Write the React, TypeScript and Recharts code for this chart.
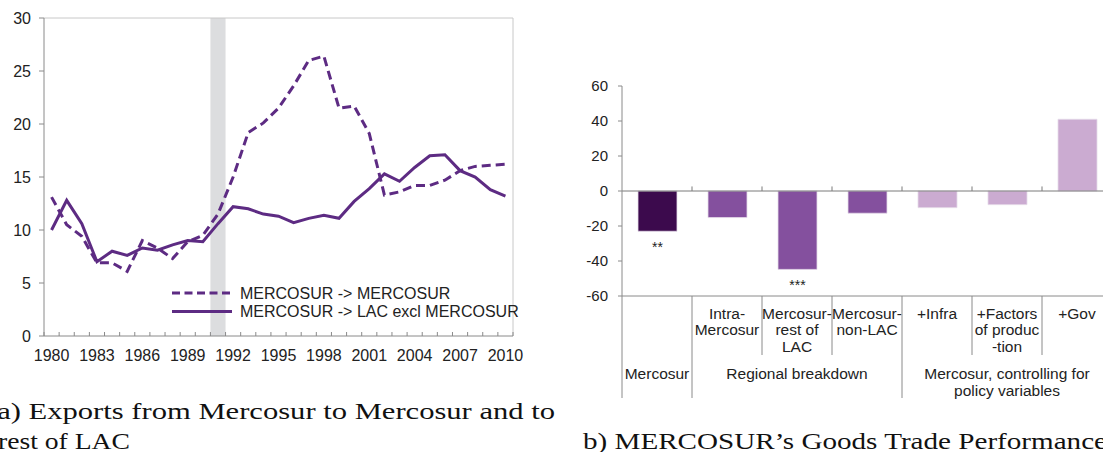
import React from 'react';
import {
  LineChart, Line, XAxis, YAxis, ReferenceArea, ReferenceLine, Legend,
  BarChart, Bar, Cell, LabelList,
} from 'recharts';

// ---------- Panel (a) data ----------
const years = [
  1980, 1981, 1982, 1983, 1984, 1985, 1986, 1987, 1988, 1989, 1990,
  1991, 1992, 1993, 1994, 1995, 1996, 1997, 1998, 1999, 2000,
  2001, 2002, 2003, 2004, 2005, 2006, 2007, 2008, 2009, 2010,
];
const mercosurToMercosur = [
  13.1, 10.5, 9.4, 6.9, 6.9, 6.1, 9.0, 8.3, 7.3, 8.9, 9.5,
  11.5, 15.0, 19.2, 20.1, 21.5, 23.6, 26.0, 26.4, 21.5, 21.7,
  19.1, 13.3, 13.6, 14.2, 14.2, 14.7, 15.6, 16.0, 16.1, 16.2,
];
const mercosurToLac = [
  10.0, 12.8, 10.6, 7.0, 8.0, 7.6, 8.3, 8.1, 8.6, 9.0, 8.9,
  10.6, 12.2, 12.0, 11.5, 11.3, 10.7, 11.1, 11.4, 11.1, 12.7,
  13.9, 15.3, 14.6, 15.9, 17.0, 17.1, 15.6, 15.0, 13.8, 13.2,
];
const yearLabels = [1980, 1983, 1986, 1989, 1992, 1995, 1998, 2001, 2004, 2007, 2010];
const leftYTicks = [0, 5, 10, 15, 20, 25, 30];
const shadedYear = 1991;
const seriesNames = ['MERCOSUR -> MERCOSUR', 'MERCOSUR -> LAC excl MERCOSUR'];

// ---------- Panel (b) data ----------
const barCategories = [
  'Mercosur', 'Intra-Mercosur', 'Mercosur-rest of LAC', 'Mercosur-non-LAC',
  '+Infra', '+Factors of production', '+Gov',
];
const barLabelLines = [
  [], ['Intra-', 'Mercosur'], ['Mercosur-', 'rest of', 'LAC'], ['Mercosur-', 'non-LAC'],
  ['+Infra'], ['+Factors', 'of produc', '-tion'], ['+Gov'],
];
const barValues = [-23, -15.2, -44.8, -12.7, -9.5, -7.8, 41];
const barSignificance = ['**', '', '***', '', '', '', ''];
const barGroupIndex = [0, 1, 1, 1, 2, 2, 2];
const groupLabels = [['Mercosur'], ['Regional breakdown'], ['Mercosur, controlling for', 'policy variables']];
const rightYTicks = [-60, -40, -20, 0, 20, 40, 60];

const captionA1 = '(a) Exports from Mercosur to Mercosur and to';
const captionA2 = 'rest of LAC';
const captionB = 'b) MERCOSUR\u2019s Goods Trade Performance';

// ---------- styles ----------
const SANS = "'Liberation Sans', Arial, sans-serif";
const SERIF = "'Liberation Serif', 'Times New Roman', serif";
const LINE_COLOR = '#5d2b83';
const AXIS_COLOR = '#8a8a8a';
const TEXT_COLOR = '#222';
const GROUP_COLORS = ['#3c0a4d', '#84509e', '#cbabd1'];

const lineData = years.map((y, i) => ({
  year: y,
  m2m: mercosurToMercosur[i],
  m2lac: mercosurToLac[i],
}));
const yearTicks: number[] = [];
years.forEach((y) => {
  yearTicks.push(y - 0.5);
  yearTicks.push(y);
});
yearTicks.push(years[years.length - 1] + 0.5);

const barData = barCategories.map((c, i) => ({
  name: c,
  value: barValues[i],
  sig: barSignificance[i],
}));

const YearTick = (props: any) => {
  const { x, y, payload } = props;
  const v = payload.value as number;
  if (!Number.isInteger(v)) {
    return <line x1={x} x2={x} y1={y} y2={y - 4} stroke={AXIS_COLOR} strokeWidth={1} />;
  }
  if (yearLabels.includes(v)) {
    return (
      <text x={x} y={y + 24.5} textAnchor="middle" fontSize={16} fontFamily={SANS} fill={TEXT_COLOR}>
        {v}
      </text>
    );
  }
  return <g />;
};

const LineLegend = () => (
  <svg width={360} height={40} style={{ display: 'block' }}>
    <line x1={2} x2={62} y1={10} y2={10} stroke={LINE_COLOR} strokeWidth={3} strokeDasharray="8 4.5" />
    <text x={70} y={10} dominantBaseline="central" fontSize={16} fontFamily={SANS} fill={TEXT_COLOR}>
      {seriesNames[0]}
    </text>
    <line x1={2} x2={62} y1={28.5} y2={28.5} stroke={LINE_COLOR} strokeWidth={3} />
    <text x={70} y={28.5} dominantBaseline="central" fontSize={16} fontFamily={SANS} fill={TEXT_COLOR}>
      {seriesNames[1]}
    </text>
  </svg>
);

const BarAxisTick = (props: any) => {
  const { x, y, payload, width } = props;
  const i: number = payload.index ?? props.index ?? 0;
  const half = typeof payload.offset === 'number' && payload.offset > 0
    ? payload.offset
    : (width / barCategories.length) / 2;
  const g = barGroupIndex[i];
  const isGroupStart = i === 0 || barGroupIndex[i - 1] !== g;
  const members = barGroupIndex.map((gi, k) => (gi === g ? k : -1)).filter((k) => k >= 0);
  const isGroupCenter = members[Math.floor(members.length / 2)] === i;
  const lines = barLabelLines[i];
  return (
    <g>
      <line
        x1={x - half} x2={x - half} y1={y} y2={y + (isGroupStart ? 102 : 59)}
        stroke={AXIS_COLOR} strokeWidth={1}
      />
      {lines.map((t, k) => (
        <text key={k} x={x} y={y + 22.5 + k * 16.5} textAnchor="middle" fontSize={15.5} fontFamily={SANS} fill={TEXT_COLOR}>
          {t}
        </text>
      ))}
      {isGroupCenter && groupLabels[g].map((t, k) => (
        <text key={'g' + k} x={x} y={y + 82.7 + k * 17.7} textAnchor="middle" fontSize={15.5} fontFamily={SANS} fill={TEXT_COLOR}>
          {t}
        </text>
      ))}
    </g>
  );
};

const SigLabel = (props: any) => {
  const { x, y, width, height, value } = props;
  if (!value) return null;
  const bottom = Math.max(y, y + height);
  return (
    <text x={x + width / 2} y={bottom + 21} textAnchor="middle" fontSize={14} fontFamily={SANS} fill={TEXT_COLOR}>
      {value}
    </text>
  );
};

export default function App() {
  return (
    <div style={{ position: 'fixed', left: 0, top: 0, width: 1103, height: 452, overflow: 'hidden', background: '#fff' }}>
      {/* Panel (a) */}
      <div style={{ position: 'absolute', left: 0, top: 0 }}>
        <LineChart width={530} height={370} data={lineData} margin={{ top: 18, right: 17, bottom: 4, left: 4 }}>
          <XAxis
            dataKey="year" type="number" domain={[1979.5, 2010.5]} ticks={yearTicks} interval={0}
            allowDataOverflow height={30} axisLine={{ stroke: AXIS_COLOR }} tickLine={false}
            tickSize={0} tickMargin={0} tick={(p: any) => <YearTick {...p} />}
          />
          <YAxis
            type="number" domain={[0, 30]} ticks={leftYTicks} width={40} interval={0}
            axisLine={{ stroke: AXIS_COLOR }} tickLine={{ stroke: AXIS_COLOR }} tickSize={5} tickMargin={8}
            tick={{ fontSize: 16, fontFamily: SANS, fill: TEXT_COLOR }}
          />
          <ReferenceArea x1={shadedYear - 0.5} x2={shadedYear + 0.5} y1={0} y2={30} fill="#dcdddf" fillOpacity={1} stroke="none" />
          <ReferenceLine y={30} stroke="#c8c8c8" />
          <ReferenceLine x={2010.5} stroke="#c8c8c8" />
          <Line
            type="linear" dataKey="m2m" name={seriesNames[0]} stroke={LINE_COLOR} strokeWidth={3}
            strokeDasharray="9 5" dot={false} activeDot={false} isAnimationActive={false}
          />
          <Line
            type="linear" dataKey="m2lac" name={seriesNames[1]} stroke={LINE_COLOR} strokeWidth={3}
            dot={false} activeDot={false} isAnimationActive={false}
          />
          <Legend
            layout="vertical" align="center" verticalAlign="middle"
            content={() => <LineLegend />}
            wrapperStyle={{ position: 'absolute', left: 170, top: 283, width: 360, height: 40 }}
          />
        </LineChart>
      </div>

      {/* Panel (b) */}
      <div style={{ position: 'absolute', left: 562, top: 70 }}>
        <BarChart width={550} height={336} data={barData} margin={{ top: 16, right: 0, bottom: 0, left: 0 }} barSize={39}>
          <XAxis
            dataKey="name" type="category" interval={0} height={110}
            axisLine={{ stroke: AXIS_COLOR }} tickLine={false} tickSize={0} tickMargin={0}
            tick={(p: any) => <BarAxisTick {...p} />}
          />
          <YAxis
            type="number" domain={[-60, 60]} ticks={rightYTicks} width={60} interval={0}
            axisLine={{ stroke: AXIS_COLOR }} tickLine={{ stroke: AXIS_COLOR }} tickSize={4} tickMargin={10}
            tick={{ fontSize: 15, fontFamily: SANS, fill: TEXT_COLOR }}
          />
          <ReferenceLine y={0} stroke="#7a7a7a" />
          {barCategories.slice(1).map((c) => (
            <ReferenceLine
              key={c} position="start" stroke="#7a7a7a"
              segment={[{ x: c, y: 0 }, { x: c, y: 2.6 }]}
            />
          ))}
          <Bar dataKey="value" isAnimationActive={false} stroke="#e6dcea" strokeWidth={0.8}>
            {barData.map((d, i) => (
              <Cell key={d.name} fill={GROUP_COLORS[barGroupIndex[i]]} />
            ))}
            <LabelList dataKey="sig" content={(p: any) => <SigLabel {...p} />} />
          </Bar>
        </BarChart>
      </div>

      {/* Captions */}
      <svg width={1103} height={452} style={{ position: 'absolute', left: 0, top: 0, pointerEvents: 'none' }}>
        <text x={-13} y={419} fontSize={24} fontFamily={SERIF} fill="#111" textLength={568} lengthAdjust="spacingAndGlyphs">
          {captionA1}
        </text>
        <text x={-2} y={449} fontSize={24} fontFamily={SERIF} fill="#111" textLength={132} lengthAdjust="spacingAndGlyphs">
          {captionA2}
        </text>
        <text x={583} y={449} fontSize={24} fontFamily={SERIF} fill="#111" textLength={524} lengthAdjust="spacingAndGlyphs">
          {captionB}
        </text>
      </svg>
    </div>
  );
}
